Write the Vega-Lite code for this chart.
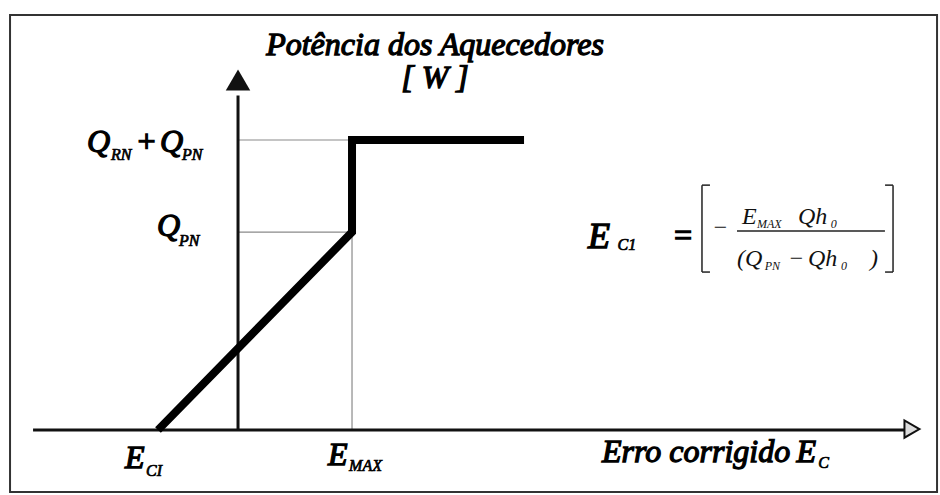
{
  "$schema": "https://vega.github.io/schema/vega-lite/v6.json",
  "width": 940,
  "height": 495,
  "autosize": {"type": "fit", "contains": "padding"},
  "padding": 0,
  "background": "white",
  "config": {"view": {"stroke": null}},
  "datasets": {
    "frame": [{"x": -2.0, "x2": 6.132, "y": -0.313, "y2": 2.096}],
    "guides": [
      {"x": 0, "x2": 1, "y": 1.465, "y2": 1.465},
      {"x": 0, "x2": 1, "y": 1, "y2": 1},
      {"x": 1, "x2": 1, "y": 0, "y2": 1}
    ],
    "axes": [
      {"x": -1.798, "x2": 5.85, "y": 0, "y2": 0},
      {"x": 0, "x2": 0, "y": 0, "y2": 1.69}
    ],
    "arrowUp": [{"x": 0, "y": 1.768}],
    "arrowRight": [{"x": 5.912, "y": 0.005}],
    "curve": [
      {"x": -0.702, "y": 0, "o": 1},
      {"x": 1, "y": 1, "o": 2},
      {"x": 1, "y": 1.465, "o": 3},
      {"x": 2.509, "y": 1.465, "o": 4}
    ],
    "brackets": [
      {"x": 4.07, "x2": 4.07, "y": 1.237, "y2": 0.798},
      {"x": 4.07, "x2": 4.14, "y": 1.237, "y2": 1.237},
      {"x": 4.07, "x2": 4.14, "y": 0.798, "y2": 0.798},
      {"x": 5.746, "x2": 5.746, "y": 1.237, "y2": 0.798},
      {"x": 5.676, "x2": 5.746, "y": 1.237, "y2": 1.237},
      {"x": 5.676, "x2": 5.746, "y": 0.798, "y2": 0.798},
      {"x": 4.377, "x2": 5.675, "y": 1.005, "y2": 1.005}
    ],
    "title": [
      {"t": "Potência dos Aquecedores", "x": 1.728, "y": 1.894},
      {"t": "[ W ]", "x": 1.728, "y": 1.727}
    ],
    "big": [
      {"t": "Q", "x": -1.325, "y": 1.404},
      {"t": "+", "x": -0.9, "y": 1.404},
      {"t": "Q", "x": -0.684, "y": 1.404},
      {"t": "Q", "x": -0.711, "y": 0.98},
      {"t": "E", "x": -0.991, "y": -0.192},
      {"t": "E", "x": 0.789, "y": -0.177},
      {"t": "Erro corrigido", "x": 3.193, "y": -0.162},
      {"t": "E", "x": 4.9, "y": -0.162},
      {"t": "=", "x": 3.807, "y": 0.93}
    ],
    "formulaE": [
      {"t": "E", "x": 3.07, "y": 0.919}
    ],
    "bigSub": [
      {"t": "RN", "x": -1.114, "y": 1.364},
      {"t": "PN", "x": -0.491, "y": 1.364},
      {"t": "PN", "x": -0.518, "y": 0.929},
      {"t": "CI", "x": -0.807, "y": -0.232},
      {"t": "MAX", "x": 0.974, "y": -0.207},
      {"t": "C", "x": 5.09, "y": -0.192},
      {"t": "C1", "x": 3.33, "y": 0.909}
    ],
    "formula": [
      {"t": "E", "x": 4.421, "y": 1.04},
      {"t": "Qh", "x": 4.912, "y": 1.04},
      {"t": "(Q", "x": 4.377, "y": 0.828},
      {"t": "−", "x": 4.825, "y": 0.828},
      {"t": "Qh", "x": 5.0, "y": 0.828},
      {"t": ")", "x": 5.544, "y": 0.828},
      {"t": "−", "x": 4.158, "y": 0.985}
    ],
    "formulaSub": [
      {"t": "MAX", "x": 4.553, "y": 1.02},
      {"t": "0", "x": 5.2, "y": 1.02},
      {"t": "PN", "x": 4.62, "y": 0.808},
      {"t": "0", "x": 5.29, "y": 0.808}
    ]
  },
  "encoding": {
    "x": {"field": "x", "type": "quantitative", "scale": {"domain": [-2.088, 6.158], "nice": false, "zero": false}, "axis": null},
    "y": {"field": "y", "type": "quantitative", "scale": {"domain": [-0.328, 2.172], "nice": false, "zero": false}, "axis": null}
  },
  "layer": [
    {
      "data": {"name": "frame"},
      "mark": {"type": "rect", "fill": null, "fillOpacity": 0, "stroke": "#333333", "strokeWidth": 2},
      "encoding": {"x2": {"field": "x2"}, "y2": {"field": "y2"}}
    },
    {
      "data": {"name": "guides"},
      "mark": {"type": "rule", "color": "#8a8a8a", "strokeWidth": 1.2},
      "encoding": {"x2": {"field": "x2"}, "y2": {"field": "y2"}}
    },
    {
      "data": {"name": "axes"},
      "mark": {"type": "rule", "color": "#111111", "strokeWidth": 3},
      "encoding": {"x2": {"field": "x2"}, "y2": {"field": "y2"}}
    },
    {
      "data": {"name": "arrowUp"},
      "mark": {"type": "point", "shape": "triangle-up", "size": 600, "filled": true, "color": "#111111", "opacity": 1}
    },
    {
      "data": {"name": "arrowRight"},
      "mark": {"type": "point", "shape": "triangle-right", "size": 300, "filled": true, "fill": "#dddddd", "stroke": "#111111", "strokeWidth": 2, "opacity": 1}
    },
    {
      "data": {"name": "curve"},
      "mark": {"type": "line", "color": "#000000", "strokeWidth": 8, "strokeJoin": "miter", "strokeCap": "butt"},
      "encoding": {"order": {"field": "o", "type": "quantitative"}}
    },
    {
      "data": {"name": "brackets"},
      "mark": {"type": "rule", "color": "#222222", "strokeWidth": 1.5},
      "encoding": {"x2": {"field": "x2"}, "y2": {"field": "y2"}}
    },
    {
      "data": {"name": "title"},
      "mark": {"type": "text", "font": "Liberation Serif", "fontSize": 32, "fontStyle": "italic", "align": "center", "baseline": "alphabetic", "color": "#000000", "stroke": "#000000", "strokeWidth": 1.3},
      "encoding": {"text": {"field": "t"}}
    },
    {
      "data": {"name": "big"},
      "mark": {"type": "text", "font": "Liberation Serif", "fontSize": 32, "fontStyle": "italic", "align": "left", "baseline": "alphabetic", "color": "#000000", "stroke": "#000000", "strokeWidth": 1.3},
      "encoding": {"text": {"field": "t"}}
    },
    {
      "data": {"name": "formulaE"},
      "mark": {"type": "text", "font": "Liberation Serif", "fontSize": 36, "fontStyle": "italic", "align": "left", "baseline": "alphabetic", "color": "#000000", "stroke": "#000000", "strokeWidth": 1.4},
      "encoding": {"text": {"field": "t"}}
    },
    {
      "data": {"name": "bigSub"},
      "mark": {"type": "text", "font": "Liberation Serif", "fontSize": 16, "fontStyle": "italic", "align": "left", "baseline": "alphabetic", "color": "#000000", "stroke": "#000000", "strokeWidth": 0.7},
      "encoding": {"text": {"field": "t"}}
    },
    {
      "data": {"name": "formula"},
      "mark": {"type": "text", "font": "Liberation Serif", "fontSize": 24, "fontStyle": "italic", "align": "left", "baseline": "alphabetic", "color": "#111111"},
      "encoding": {"text": {"field": "t"}}
    },
    {
      "data": {"name": "formulaSub"},
      "mark": {"type": "text", "font": "Liberation Serif", "fontSize": 12, "fontStyle": "italic", "align": "left", "baseline": "alphabetic", "color": "#111111"},
      "encoding": {"text": {"field": "t"}}
    }
  ]
}
